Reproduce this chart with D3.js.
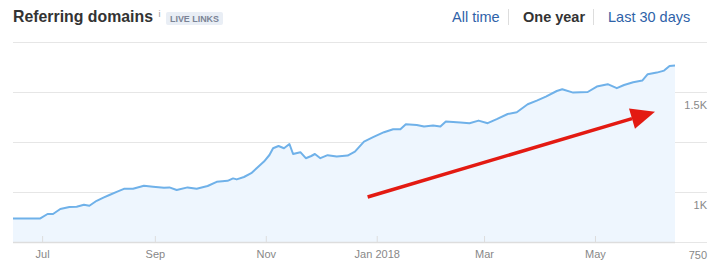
<!DOCTYPE html>
<html>
<head>
<meta charset="utf-8">
<script src="https://cdn.jsdelivr.net/npm/d3@7"></script>
<style>
body { margin: 0; background: #fff; font-family: "Liberation Sans", Arial, sans-serif; }
svg { display: block; }
</style>
</head>
<body>
<svg width="712" height="276"></svg>
<script>
// referring domains, one year
var dates = ["2017-06-15","2017-06-30","2017-07-04","2017-07-07","2017-07-11","2017-07-16","2017-07-20",
	"2017-07-24","2017-07-27","2017-07-31","2017-08-04","2017-08-07","2017-08-11","2017-08-15","2017-08-20",
	"2017-08-26","2017-08-31","2017-09-06","2017-09-09","2017-09-13","2017-09-19","2017-09-24","2017-09-30",
	"2017-10-05","2017-10-11","2017-10-14","2017-10-16","2017-10-20","2017-10-24","2017-10-28","2017-10-31",
	"2017-11-03","2017-11-05","2017-11-08","2017-11-11","2017-11-14","2017-11-16","2017-11-20","2017-11-23",
	"2017-11-26","2017-11-28","2017-12-01","2017-12-05","2017-12-10","2017-12-16","2017-12-20","2017-12-25",
	"2017-12-30","2018-01-05","2018-01-10","2018-01-14","2018-01-17","2018-01-23","2018-01-27","2018-02-01",
	"2018-02-05","2018-02-08","2018-02-12","2018-02-16","2018-02-21","2018-02-26","2018-03-03","2018-03-08",
	"2018-03-14","2018-03-19","2018-03-25","2018-03-30","2018-04-04","2018-04-10","2018-04-13","2018-04-19",
	"2018-04-27","2018-05-02","2018-05-08","2018-05-13","2018-05-17","2018-05-22","2018-05-27","2018-05-30",
	"2018-06-04","2018-06-08","2018-06-11","2018-06-14"];
var domains = [868,868,890,890,915,925,926,
	936,931,956,973,985,1001,1016,1016,
	1031,1026,1021,1023,1010,1023,1016,1030,
	1051,1056,1068,1063,1075,1094,1127,1152,
	1185,1219,1230,1219,1240,1190,1199,1169,
	1180,1190,1169,1184,1177,1182,1202,1252,
	1274,1299,1314,1314,1339,1335,1327,1332,
	1327,1352,1350,1347,1344,1357,1344,1364,
	1390,1399,1439,1457,1477,1505,1514,1497,
	1500,1527,1539,1519,1535,1549,1557,1589,
	1597,1607,1630,1632];
var gridValues = [750, 1000, 1250, 1500, 1750];
var labelValues = [750, 1000, 1500];
var periods = ["All time", "One year", "Last 30 days"];
var activePeriod = "One year";
// red annotation arrow, in chart units
var arrowFrom = {date: "2017-12-27", value: 975};
var arrowTo = {date: "2018-06-03", value: 1401};

var parse = d3.timeParse("%Y-%m-%d");
var data = dates.map(function (d, i) { return {date: parse(d), value: domains[i]}; });

var svg = d3.select("svg");

var x = d3.scaleTime().domain([parse("2017-06-15"), parse("2018-06-14")]).range([13, 675]);
var y = d3.scaleLinear().domain([750, 1750]).range([242, 42]);

// header
svg.append("text").attr("x", 13).attr("y", 21.5)
	.attr("textLength", 140).attr("lengthAdjust", "spacingAndGlyphs")
	.style("font-size", "16.5px").style("font-weight", "bold").style("fill", "#333")
	.text("Referring domains");
svg.append("text").attr("x", 158.5).attr("y", 17)
	.style("font-size", "9px").style("fill", "#999").text("i");
svg.append("rect").attr("x", 166).attr("y", 12).attr("width", 57).attr("height", 13)
	.attr("rx", 2).style("fill", "#e9eef5");
svg.append("text").attr("x", 194.5).attr("y", 22).attr("text-anchor", "middle")
	.attr("textLength", 49).attr("lengthAdjust", "spacingAndGlyphs")
	.style("font-size", "9.5px").style("font-weight", "bold").style("fill", "#7b8496")
	.text("LIVE LINKS");

var px = [452, 523, 608];
periods.forEach(function (p, i) {
	svg.append("text").attr("x", px[i]).attr("y", 22)
		.style("font-size", "14.5px")
		.style("font-weight", p == activePeriod ? "bold" : "normal")
		.style("fill", p == activePeriod ? "#333" : "#2f62a8")
		.text(p);
	if (i > 0) {
		svg.append("line").attr("x1", px[i] - 14.5).attr("x2", px[i] - 14.5)
			.attr("y1", 9).attr("y2", 25).style("stroke", "#ddd");
	}
});

// grid
svg.append("g").selectAll("line").data(gridValues).enter().append("line")
	.attr("x1", 13).attr("x2", 707)
	.attr("y1", d => y(d) + 0.5).attr("y2", d => y(d) + 0.5)
	.style("stroke", "#e6e6e6");

// area + line
var area = d3.area().x(d => x(d.date)).y0(y(750)).y1(d => y(d.value));
var line = d3.line().x(d => x(d.date)).y(d => y(d.value));

svg.append("path").datum(data).attr("d", area).style("fill", "#eef6fe");
svg.append("path").datum(data).attr("d", line)
	.style("fill", "none").style("stroke", "#6fb1e9").style("stroke-width", 2)
	.style("stroke-linejoin", "round");

// x axis
var xAxis = d3.axisBottom(x)
	.ticks(d3.timeMonth.every(2))
	.tickSize(6)
	.tickFormat(d => d.getMonth() == 0 ? d3.timeFormat("%b %Y")(d) : d3.timeFormat("%b")(d));
var xg = svg.append("g").attr("transform", "translate(0,236)").call(xAxis);
xg.select(".domain").remove();
xg.selectAll(".tick line").attr("y2", 6).style("stroke", "#ddd");
xg.selectAll(".tick text").attr("y", 14)
	.style("font-family", "Liberation Sans, Arial, sans-serif")
	.style("font-size", "11px").style("fill", "#888");
svg.append("line").attr("x1", 13).attr("x2", 675)
	.attr("y1", y(750) + 0.5).attr("y2", y(750) + 0.5)
	.style("stroke", "#ddd").style("stroke-width", 1.5);

// y labels
svg.append("g").selectAll("text").data(labelValues).enter().append("text")
	.attr("x", 707).attr("y", d => y(d) + 17).attr("text-anchor", "end")
	.style("font-size", "11px").style("fill", "#888")
	.text(d => d >= 1000 ? d3.format("~")(d / 1000) + "K" : d);

// arrow
var ax1 = x(parse(arrowFrom.date)), ay1 = y(arrowFrom.value);
var ax2 = x(parse(arrowTo.date)), ay2 = y(arrowTo.value);
var ang = Math.atan2(ay2 - ay1, ax2 - ax1);
var headLen = 24, headW = 10.5;
var bx = ax2 - headLen * Math.cos(ang), by = ay2 - headLen * Math.sin(ang);
svg.append("line").attr("x1", ax1).attr("y1", ay1).attr("x2", bx).attr("y2", by)
	.style("stroke", "#e31a12").style("stroke-width", 3.5);
svg.append("path")
	.attr("d", "M" + ax2 + "," + ay2 +
		"L" + (bx + headW * Math.sin(ang)) + "," + (by - headW * Math.cos(ang)) +
		"L" + (bx - headW * Math.sin(ang)) + "," + (by + headW * Math.cos(ang)) + "Z")
	.style("fill", "#e31a12");
</script>
</body>
</html>
